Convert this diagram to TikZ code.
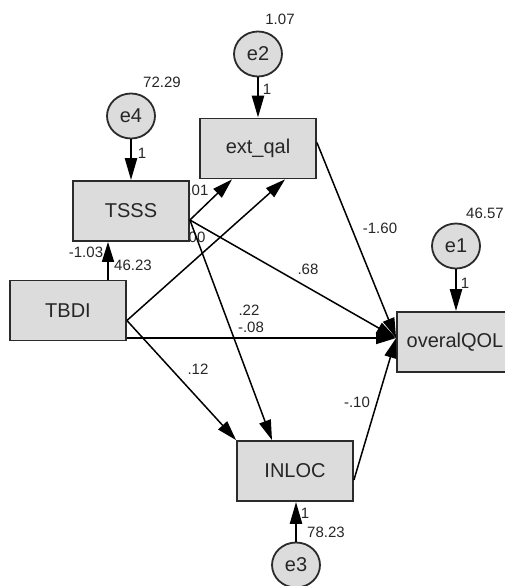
\documentclass[tikz,border=0pt]{standalone}
\usepackage{fontspec}
\setmainfont{Liberation Sans}
\usepackage{xcolor}
\definecolor{cFill}{HTML}{DCDCDC}
\definecolor{cLine}{HTML}{2B2B2B}
\definecolor{cText}{HTML}{262626}
\usetikzlibrary{arrows.meta,shapes.geometric,backgrounds}
\tikzset{
  node-box/.style={draw=cLine,line width=1.8pt,fill=cFill,
    minimum width=116pt,minimum height=60pt,inner sep=0pt,
    font=\fontsize{20}{24}\selectfont,text=cText},
  node-err/.style={draw=cLine,line width=1.8pt,fill=cFill,ellipse,
    minimum width=48pt,minimum height=45pt,inner sep=0pt,
    font=\fontsize{20}{24}\selectfont,text=cText},
  arrow/.style={-{Triangle[length=20pt,width=12pt]},line width=1.5pt,draw=black},
  arrow-err/.style={-{Triangle[length=22pt,width=12pt]},line width=2.4pt,draw=black},
  lbl/.style={inner sep=0pt,font=\fontsize{15}{18}\selectfont,text=cText},
}

\begin{document}
\begin{tikzpicture}[x=1pt,y=-1pt]
  \useasboundingbox (0,0) rectangle (505,586);
  % observed variables
  \node[node-box] (tsss) at (131,211) {TSSS};
  \node[node-box] (extqal) at (258,148.5) {ext\_qal};
  \node[node-box] (tbdi) at (68,310.5) {TBDI};
  \node[node-box] (qol) at (455,342) {overalQOL};
  \node[node-box] (inloc) at (295,471) {INLOC};
  % error terms
  \node[node-err] (e4) at (131,116) {e4};
  \node[node-err] (e2) at (258,54) {e2};
  \node[node-err] (e1) at (456,246) {e1};
  \node[node-err] (e3) at (296,565) {e3};
  % attach points
  \coordinate (tsss-out) at ([yshift=-9pt]tsss.east);
  \coordinate (tbdi-out) at ([yshift=-10pt]tbdi.east);
  \coordinate (qol-in) at ([yshift=4pt]qol.west);
  % weights hidden under TSSS
  \begin{scope}[on background layer]
    \node[lbl] (w-tsss-ext) at (198,190) {.01};
    \node[lbl] (w-tsss-qol) at (195,237) {.00};
  \end{scope}
  % error paths
  \draw[arrow-err] (e4) -- (tsss);
  \draw[arrow-err] (e2) -- (extqal);
  \draw[arrow-err] (e1.south) -- (e1.south |- qol.north);
  \draw[arrow-err] (e3.north) -- (e3.north |- inloc.south);
  % structural paths
  \draw[arrow] ([xshift=40pt]tbdi.north) -- ([xshift=40pt]tbdi.north |- tsss.south);
  \draw[arrow] (tsss-out) -- ([xshift=-26pt]extqal.south);
  \draw[arrow] (tbdi-out) -- ([xshift=27pt]extqal.south);
  \draw[arrow] (tsss-out) -- (qol-in);
  \draw[arrow] ([yshift=6pt]extqal.east) -- (qol-in);
  \draw[arrow] (tbdi.east |- qol-in) -- (qol-in);
  \draw[arrow] (tsss-out) -- ([xshift=-23pt]inloc.north);
  \draw[arrow] (tbdi-out) -- (inloc.north west);
  \draw[arrow] ([yshift=-9pt]inloc.east) -- (qol-in);
  % variances
  \node[lbl] (v-e4) at (162,82) {72.29};
  \node[lbl] (v-e2) at (280,19) {1.07};
  \node[lbl] (v-e1) at (485,213) {46.57};
  \node[lbl] (v-e3) at (326,532) {78.23};
  \node[lbl] (v-tbdi) at (133,265) {46.23};
  % fixed loadings
  \node[lbl] (f-e4) at (142,153) {1};
  \node[lbl] (f-e2) at (267,89) {1};
  \node[lbl] (f-e1) at (465,283) {1};
  \node[lbl] (f-e3) at (305,513) {1};
  % path weights
  \node[lbl] (w-tbdi-tsss) at (86,252) {-1.03};
  \node[lbl] (w-ext-qol) at (380,228) {-1.60};
  \node[lbl] (w-tsss-qol2) at (308,269) {.68};
  \node[lbl] (w-tsss-inloc) at (249,310) {.22};
  \node[lbl] (w-tbdi-qol) at (251,327) {-.08};
  \node[lbl] (w-tbdi-inloc) at (198,369) {.12};
  \node[lbl] (w-inloc-qol) at (357,402) {-.10};
\end{tikzpicture}
\end{document}
